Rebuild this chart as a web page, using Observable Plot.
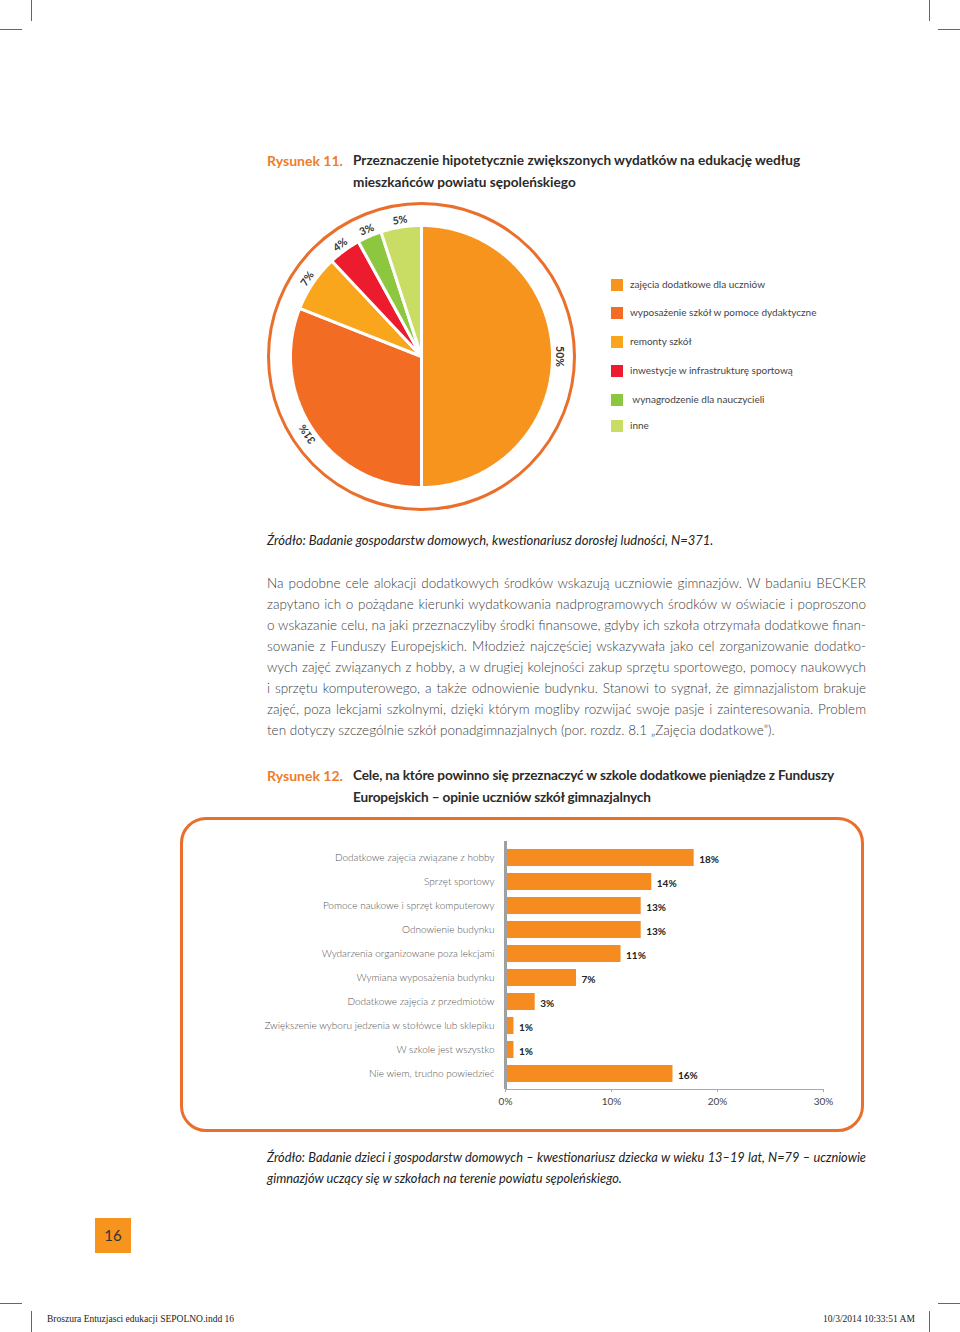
<!DOCTYPE html>
<html>
<head>
<meta charset="utf-8">
<script src="https://cdn.jsdelivr.net/npm/d3@7"></script>
<script src="https://cdn.jsdelivr.net/npm/@observablehq/plot@0.6"></script>
<style>
  html, body { margin: 0; padding: 0; background: #fff; }
  #page { position: relative; width: 960px; height: 1332px; overflow: hidden; font-family: Lato, "Open Sans", sans-serif; }
  .abs { position: absolute; white-space: nowrap; }
  .cap-num { color: #ee7d2b; font-weight: 700; font-size: 14px; }
  .cap-txt { color: #2a2a2a; font-weight: 700; font-size: 13.6px; }
  .src { font-style: italic; font-size: 13px; color: #222; }
  .para { position: absolute; left: 267px; width: 599px; font-size: 13.5px; font-weight: 300; color: #3c3c3c; }
  .para div { height: 21px; line-height: 21px; text-align: justify; text-align-last: justify; white-space: nowrap; }
  .para div.last { text-align-last: left; }
  .leg { position: absolute; font-size: 10px; color: #444; white-space: nowrap; }
  .sw { position: absolute; width: 12px; height: 12px; }
  .crop { position: absolute; background: #666; }
  .foot { position: absolute; font-family: "Liberation Serif", serif; font-size: 9.5px; color: #222; white-space: nowrap; }
</style>
</head>
<body>
<div id="page"></div>
<script>
// ---------------- DATA ----------------
const pieCategories = [
  "zajęcia dodatkowe dla uczniów",
  "wyposażenie szkół w pomoce dydaktyczne",
  "remonty szkół",
  "inwestycje w infrastrukturę sportową",
  " wynagrodzenie dla nauczycieli",
  "inne"
];
const pieValues = [50, 31, 7, 4, 3, 5];
const pieColors = ["#f7941e", "#f26c24", "#f9a61c", "#ec1c2e", "#8dc63f", "#c9dc63"];

const barCategories = [
  "Dodatkowe zajęcia związane z hobby",
  "Sprzęt sportowy",
  "Pomoce naukowe i sprzęt komputerowy",
  "Odnowienie budynku",
  "Wydarzenia organizowane poza lekcjami",
  "Wymiana wyposażenia budynku",
  "Dodatkowe zajęcia z przedmiotów",
  "Zwiększenie wyboru jedzenia w stołówce lub sklepiku",
  "W szkole jest wszystko",
  "Nie wiem, trudno powiedzieć"
];
const barValues = [17.8, 13.8, 12.8, 12.8, 10.9, 6.7, 2.8, 0.8, 0.8, 15.8];
const barTicks = [0, 10, 20, 30];

// ---------------- PAGE ----------------
const page = document.getElementById("page");
function el(cls, html, style) {
  const d = document.createElement("div");
  d.className = cls;
  d.innerHTML = html;
  Object.assign(d.style, style);
  page.appendChild(d);
  return d;
}

// crop marks
[[31, 0, 1, 21], [0, 29, 22, 1], [929, 0, 1, 21], [938, 29, 22, 1],
 [0, 1303, 22, 1], [31, 1311, 1, 21], [938, 1303, 22, 1], [929, 1311, 1, 21]]
  .forEach(([l, t, w, h]) => el("crop", "", {left: l + "px", top: t + "px", width: w + "px", height: h + "px"}));

// Figure 11 caption
el("abs cap-num", "Rysunek 11.", {left: "267px", top: "152px"});
el("abs cap-txt", "Przeznaczenie hipotetycznie zwiększonych wydatków na edukację według", {left: "353px", top: "152px"});
el("abs cap-txt", "mieszkańców powiatu sępoleńskiego", {left: "353px", top: "174px"});

// ---------------- PIE ----------------
const R = 131;
let cum = 0;
const slices = pieValues.map((v, i) => {
  const a0 = cum / 100 * 360, a1 = (cum + v) / 100 * 360;
  cum += v;
  return {cat: pieCategories[i], value: v, a0, a1, color: pieColors[i]};
});
function wedge(s) {
  const pts = [{x: 0, y: 0}];
  const n = Math.max(2, Math.ceil((s.a1 - s.a0) / 0.5));
  for (let k = 0; k <= n; k++) {
    const a = (s.a0 + (s.a1 - s.a0) * k / n) * Math.PI / 180;
    pts.push({x: R * Math.sin(a), y: R * Math.cos(a)});
  }
  return pts;
}
const labelR = 138;
const pieLabels = slices.map(s => {
  const m = (s.a0 + s.a1) / 2;
  const a = m * Math.PI / 180;
  return {x: labelR * Math.sin(a), y: labelR * Math.cos(a), text: s.value + "%", rotate: m > 180 ? m - 360 : m};
});

const pie = Plot.plot({
  width: 330, height: 330,
  margin: 0,
  x: {domain: [-161, 169], axis: null},
  y: {domain: [-169, 161], axis: null},
  style: {fontFamily: "Lato, sans-serif", background: "transparent", overflow: "visible"},
  marks: [
    Plot.dot([{x: 0, y: 0}], {x: "x", y: "y", r: 153, stroke: "#ea6f2c", strokeWidth: 3, fill: "none"}),
    ...slices.map(s => Plot.line(wedge(s), {x: "x", y: "y", fill: s.color, stroke: "#fff", strokeWidth: 3, strokeLinejoin: "miter", curve: "linear-closed"})),
    Plot.text(pieLabels, {x: "x", y: "y", text: "text", rotate: "rotate", fontSize: 10.5, fontWeight: "bold", fill: "#333"})
  ]
});
Object.assign(pie.style, {position: "absolute", left: "260px", top: "195px"});
page.appendChild(pie);

// legend
const legTops = [279, 307, 336, 365, 394, 420];
pieCategories.forEach((c, i) => {
  el("sw", "", {left: "611px", top: legTops[i] + "px", background: pieColors[i]});
  el("leg", c.replace(/^ /, "&nbsp;"), {left: "630px", top: (legTops[i] - 1) + "px"});
});

// source 1
el("abs src", "Źródło: Badanie gospodarstw domowych, kwestionariusz dorosłej ludności, N=371.", {left: "267px", top: "532px"});

// paragraph
const paraLines = [
  "Na podobne cele alokacji dodatkowych środków wskazują uczniowie gimnazjów. W badaniu BECKER",
  "zapytano ich o pożądane kierunki wydatkowania nadprogramowych środków w oświacie i poproszono",
  "o wskazanie celu, na jaki przeznaczyliby środki finansowe, gdyby ich szkoła otrzymała dodatkowe finan-",
  "sowanie z Funduszy Europejskich. Młodzież najczęściej wskazywała jako cel zorganizowanie dodatko-",
  "wych zajęć związanych z hobby, a w drugiej kolejności zakup sprzętu sportowego, pomocy naukowych",
  "i sprzętu komputerowego, a także odnowienie budynku. Stanowi to sygnał, że gimnazjalistom brakuje",
  "zajęć, poza lekcjami szkolnymi, dzięki którym mogliby rozwijać swoje pasje i zainteresowania. Problem",
  "ten dotyczy szczególnie szkół ponadgimnazjalnych (por. rozdz. 8.1 „Zajęcia dodatkowe”)."
];
const para = el("para", "", {top: "573px"});
paraLines.forEach((t, i) => {
  const d = document.createElement("div");
  d.textContent = t;
  if (i === paraLines.length - 1) d.className = "last";
  para.appendChild(d);
});
// squeeze any line that is wider than the column
[...para.children].forEach(d => {
  const r = document.createRange(); r.selectNodeContents(d);
  const w = r.getBoundingClientRect().width;
  if (w > 599) d.style.letterSpacing = (-(w - 599) / d.textContent.length) + "px";
});

// Figure 12 caption
el("abs cap-num", "Rysunek 12.", {left: "267px", top: "767px"});
el("abs cap-txt", "Cele, na które powinno się przeznaczyć w szkole dodatkowe pieniądze z Funduszy", {left: "353px", top: "767px", letterSpacing: "-0.15px"});
el("abs cap-txt", "Europejskich – opinie uczniów szkół gimnazjalnych", {left: "353px", top: "789px", letterSpacing: "-0.15px"});

// frame
el("abs", "", {left: "180px", top: "817px", width: "678px", height: "309px", border: "3px solid #ea6f2c", borderRadius: "26px"});

// ---------------- BAR CHART ----------------
const rows = barCategories.map((c, i) => ({cat: c, value: barValues[i]}));
const bars = Plot.plot({
  width: 600, height: 275,
  marginLeft: 245, marginRight: 37, marginTop: 3, marginBottom: 24,
  x: {domain: [0, 30], label: null},
  y: {domain: barCategories, paddingInner: 0.3, paddingOuter: 0.15, label: null},
  style: {fontFamily: "Lato, sans-serif", fontSize: "10px", color: "#555", background: "transparent", overflow: "visible"},
  marks: [
    Plot.barX(rows, {x: "value", y: "cat", fill: "#f68b1f"}),
    Plot.frame({anchor: "bottom", stroke: "#aaa"}),
    Plot.ruleX([0], {stroke: "#a0a0a0", strokeWidth: 3}),
    Plot.text(rows, {x: "value", y: "cat", text: d => Math.round(d.value) + "%", dx: 5, dy: 2, textAnchor: "start", fontWeight: "bold", fontSize: 10, fill: "#222"}),
    Plot.axisX({ticks: barTicks, tickFormat: d => d + "%", tickSize: 3, tickPadding: 5, stroke: "#aaa", fill: "#444", fontSize: 10, label: null}),
    Plot.axisY({tickSize: 0, tickPadding: 11, fill: "#555", fontSize: 10, fontWeight: 300, label: null})
  ]
});
Object.assign(bars.style, {position: "absolute", left: "260px", top: "838px"});
page.appendChild(bars);

// source 2
el("para", "<div class='src' style='font-weight:400;color:#222;font-size:12.8px'>Źródło: Badanie dzieci i gospodarstw domowych – kwestionariusz dziecka w wieku 13–19 lat, N=79 – uczniowie</div><div class='src last' style='font-weight:400;color:#222;font-size:12.8px'>gimnazjów uczący się w szkołach na terenie powiatu sępoleńskiego.</div>", {top: "1147px"});

// page number
el("abs", "16", {left: "95px", top: "1218px", width: "36px", height: "35px", background: "#f7941e", color: "#333", fontSize: "15px", textAlign: "center", lineHeight: "35px"});

// footer
el("foot", "Broszura Entuzjasci edukacji SEPOLNO.indd   16", {left: "47px", top: "1314px"});
el("foot", "10/3/2014   10:33:51 AM", {left: "823px", top: "1314px"});
</script>
</body>
</html>
